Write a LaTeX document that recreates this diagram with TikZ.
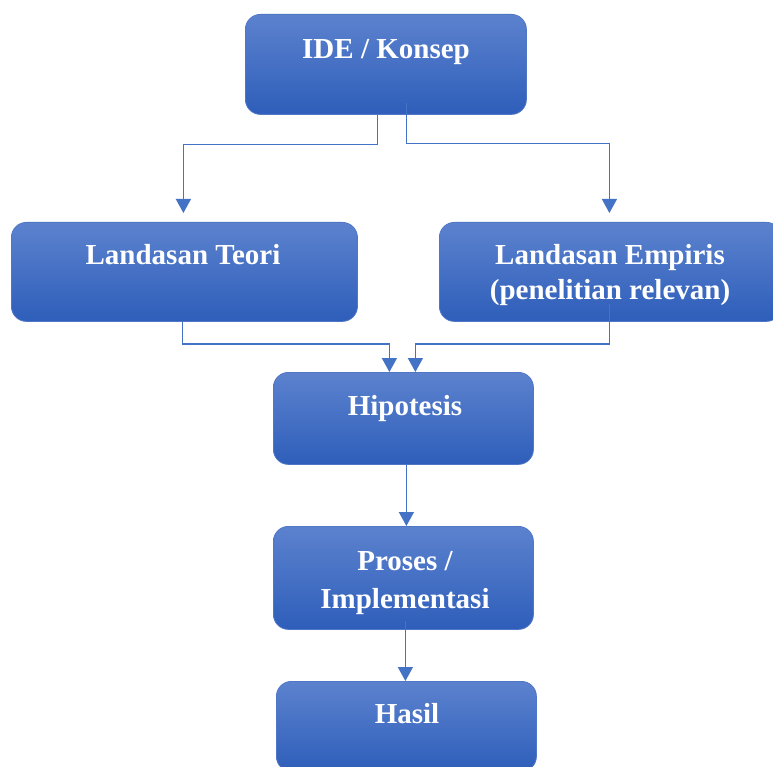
\documentclass[tikz,border=0pt]{standalone}
\usepackage{fontspec}
\setmainfont{Liberation Serif}
\usetikzlibrary{arrows.meta}
\definecolor{boxtop}{RGB}{92,130,206}
\definecolor{boxbot}{RGB}{46,94,186}
\definecolor{boxline}{RGB}{80,118,198}
\definecolor{conncol}{RGB}{68,114,196}
\tikzset{
  flowbox/.style={rectangle, rounded corners=15pt, top color=boxtop, bottom color=boxbot,
    draw=boxline, line width=0.8pt, inner sep=0pt, anchor=north west},
  boxtext/.style={text=white, font=\bfseries\fontsize{29}{35}\selectfont, align=center, inner sep=0pt},
  conn/.style={draw=conncol, line width=1.4pt, -{Triangle[width=15pt,length=14pt]}},
}
\begin{document}
\begin{tikzpicture}[x=1pt,y=-1pt]
\useasboundingbox (0,0) rectangle (773,767);
\fill[white] (0,0) rectangle (773,767);
\clip (0,0) rectangle (773,767);

\node[flowbox, minimum width=281pt, minimum height=100pt] (ide) at (245,14) {};
\node[flowbox, minimum width=346pt, minimum height=99pt] (teori) at (11,222) {};
\node[flowbox, minimum width=342pt, minimum height=99pt] (empiris) at (439,222) {};
\node[flowbox, minimum width=260pt, minimum height=92pt] (hip) at (273,372) {};
\node[flowbox, minimum width=260pt, minimum height=103pt] (proses) at (273,526) {};
\node[flowbox, minimum width=260pt, minimum height=90pt] (hasil) at (276,681) {};

\node[boxtext, anchor=base] (tide) at (386,59) {IDE / Konsep};
\node[boxtext, anchor=base] (tteori) at (183,265) {Landasan Teori};
\node[boxtext, anchor=base] (temp1) at (610,265) {Landasan Empiris};
\node[boxtext, anchor=base] (temp2) at (610,299) {(penelitian relevan)};
\node[boxtext, anchor=base] (thip) at (405,415) {Hipotesis};
\node[boxtext, anchor=base] (tpro1) at (405,570) {Proses /};
\node[boxtext, anchor=base] (tpro2) at (405,608) {Implementasi};
\node[boxtext, anchor=base] (thas) at (407,723) {Hasil};

% IDE -> Landasan Teori / Empiris
\draw[conn] ([xshift=-8.5pt]ide.south) -- ++(0,30) -| ([xshift=-1pt,yshift=9pt]teori.north);
\draw[conn] ([xshift=20.5pt,yshift=12pt]ide.south) -- ++(0,41) -| ([xshift=-1pt,yshift=9pt]empiris.north);
% Landasan -> Hipotesis
\draw[conn] ([xshift=-2pt]teori.south) -- ++(0,22) -| ([xshift=-14pt]hip.north);
\draw[conn] ([xshift=-1pt,yshift=18pt]empiris.south) -- ++(0,40) -| ([xshift=12pt]hip.north);
% Hipotesis -> Proses -> Hasil
\draw[conn] ([xshift=3pt]hip.south) -- ([xshift=3pt]proses.north);
\draw[conn] ([xshift=2pt,yshift=9pt]proses.south) -- ([xshift=-1pt]hasil.north);
\end{tikzpicture}
\end{document}
